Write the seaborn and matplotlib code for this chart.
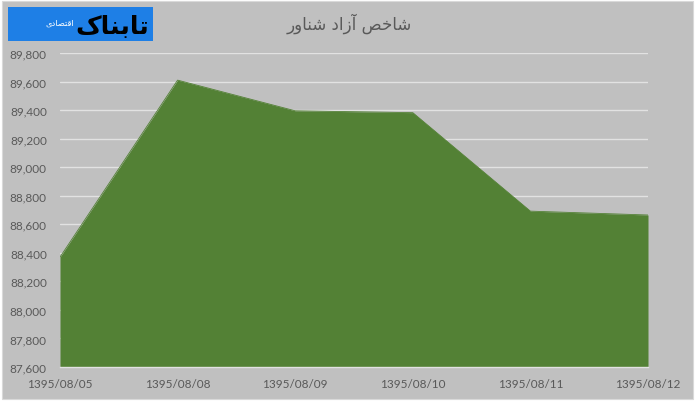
import matplotlib
matplotlib.use("Agg")
import matplotlib.pyplot as plt
import matplotlib.patches as mpatches
import seaborn as sns
import pandas as pd

# data
dates = ["1395/08/05", "1395/08/08", "1395/08/09", "1395/08/10", "1395/08/11", "1395/08/12"]
index_values = [88370, 89610, 89395, 89382, 88692, 88665]
y_ticks = list(range(87600, 89801, 200))

# Persian text, pre-shaped (presentation forms, visual order) since matplotlib has no bidi shaping
title_text = "\uFEAD\uFEED\uFE8E\uFEE8\uFEB7 \uFEA9\uFE8D\uFEAF\uFE81 \uFEBA\uFEA7\uFE8E\uFEB7"
logo_text = "\uFB8E\uFE8E\uFEE8\uFE91\uFE8E\uFE97"
logo_sub = "\uFBFC\uFEA9\uFE8E\uFEBC\uFE98\uFED7\uFE8D"

bg = "#c0c0c0"
green = "#538135"
text_gray = "#595959"

df = pd.DataFrame({"date": dates, "value": index_values})
df["pos"] = range(len(df))

sns.set_style("white")
plt.rcParams["font.family"] = ["Lato", "DejaVu Sans"]

fig = plt.figure(figsize=(6.97, 4.06), dpi=100)
fig.patch.set_facecolor("white")
# chart panel
panel = mpatches.Rectangle((2 / 697, 6 / 406), 691 / 697, 398 / 406,
                           transform=fig.transFigure, facecolor=bg,
                           edgecolor="#d9d9d9", lw=0.8, zorder=-5)
fig.add_artist(panel)

ax = fig.add_axes([60 / 697, 1 - 368 / 406, 588 / 697, 314 / 406])
ax.set_zorder(2)
ax.set_facecolor(bg)

for t in y_ticks:
    ax.axhline(t, color="#e2e2e2", lw=1, zorder=1)

sns.lineplot(data=df, x="pos", y="value", color=green, linewidth=0.6, ax=ax, zorder=3)
ax.fill_between(df["pos"], df["value"], y_ticks[0], color=green, lw=0, zorder=2)

ax.set_xlim(0, len(dates) - 1)
ax.set_ylim(y_ticks[0], y_ticks[-1])
ax.set_yticks(y_ticks)
ax.set_yticklabels([f"{v:,}" for v in y_ticks], fontsize=8.5, color=text_gray)
ax.set_xticks(df["pos"])
ax.set_xticklabels(dates, fontsize=8.5, color=text_gray)
ax.tick_params(axis="y", length=0, pad=9.5)
ax.tick_params(axis="x", length=3, color="#e2e2e2", pad=5)
ax.set_xlabel(None)
ax.set_ylabel(None)
for side in ["top", "right", "left"]:
    ax.spines[side].set_visible(False)
ax.spines["bottom"].set_color("#e2e2e2")
ax.spines["bottom"].set_linewidth(1)
ax.spines["bottom"].set_zorder(4)

fig.text(349 / 697, 1 - 24 / 406, title_text, fontsize=12, color=text_gray,
         family="DejaVu Sans", ha="center", va="center", zorder=5)

# logo block
logo = mpatches.Rectangle((8 / 697, 1 - 42 / 406), 145 / 697, 34 / 406,
                          transform=fig.transFigure, facecolor="#1e7fe6",
                          edgecolor="none", zorder=4)
fig.add_artist(logo)
fig.text(112 / 697, 1 - 27 / 406, logo_text, fontsize=18, color="black",
         family="DejaVu Sans", fontweight="bold", ha="center", va="center", zorder=5)
fig.text(60 / 697, 1 - 23 / 406, logo_sub, fontsize=6, color="white",
         family="DejaVu Sans", ha="center", va="center", zorder=5)

fig.savefig("out.png", dpi=100, facecolor=fig.get_facecolor())
